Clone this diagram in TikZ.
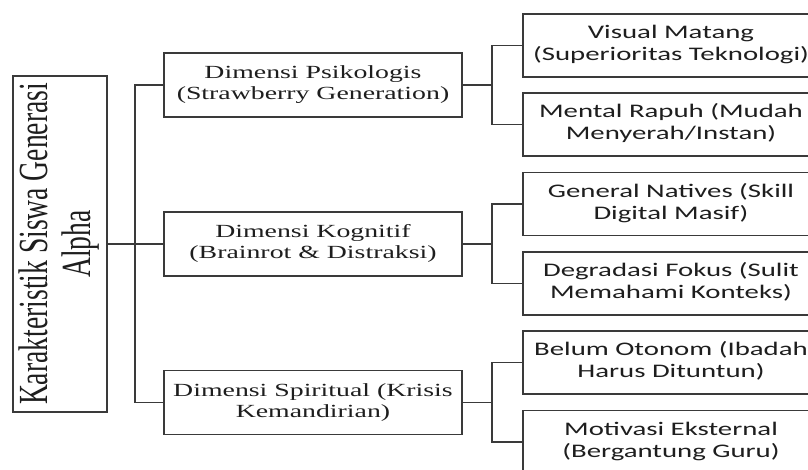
\documentclass[tikz,border=0pt]{standalone}
\usepackage{fontspec}
\setmainfont{Liberation Serif}
\newfontfamily\boxsans{Carlito}
\usepackage{graphicx}
\definecolor{linec}{HTML}{3A3A3A}
\definecolor{txtc}{HTML}{1E1E1E}
\newcommand{\hserif}[1]{\scalebox{1.5}[1]{\fontsize{13.9}{15.8}\selectfont\begin{tabular}{@{}c@{}}#1\end{tabular}}}
\newcommand{\hsans}[1]{\scalebox{1.5}[1]{\boxsans\fontsize{14.4}{16.5}\selectfont\begin{tabular}{@{}c@{}}#1\end{tabular}}}
\newcommand{\vserif}[1]{\scalebox{1}[1.5]{\fontsize{20.7}{21.5}\selectfont\begin{tabular}{@{}c@{}}#1\end{tabular}}}
\begin{document}
\begin{tikzpicture}[x=0.75pt,y=-0.75pt,
  boxbase/.style={draw=linec,line width=1.1pt,inner sep=0pt,text=txtc},
  rootbox/.style={boxbase,minimum width=70.5pt,minimum height=252pt},
  midbox/.style={boxbase,minimum width=223.5pt,minimum height=48pt},
  leafbox/.style={boxbase,minimum width=222pt,minimum height=47.5pt},
  conn/.style={draw=linec,line width=1.1pt}]
\useasboundingbox (0,0) rectangle (808,470);
\fill[white] (0,0) rectangle (808,470);
\clip (0,0) rectangle (808,470);
\node[rootbox] (r) at (60,244) {\rotatebox{90}{\vserif{Karakteristik Siswa Generasi\\Alpha}}};
\node[midbox] (m1) at (313,85) {\hserif{Dimensi Psikologis\\(Strawberry Generation)}};
\node[midbox] (m2) at (313,244) {\hserif{Dimensi Kognitif\\(Brainrot \& Distraksi)}};
\node[midbox] (m3) at (313,402.5) {\hserif{Dimensi Spiritual (Krisis\\Kemandirian)}};
\node[leafbox] (a) at (671,45.5) {\hsans{Visual Matang\\(Superioritas Teknologi)}};
\node[leafbox] (b) at (671,124.5) {\hsans{Mental Rapuh (Mudah\\Menyerah/Instan)}};
\node[leafbox] (c) at (671,204) {\hsans{General Natives (Skill\\Digital Masif)}};
\node[leafbox] (d) at (671,283.5) {\hsans{Degradasi Fokus (Sulit\\Memahami Konteks)}};
\node[leafbox] (e) at (671,362.5) {\hsans{Belum Otonom (Ibadah\\Harus Dituntun)}};
\node[leafbox] (f) at (671,442) {\hsans{Motivasi Eksternal\\(Bergantung Guru)}};
\coordinate (t) at (135,0);
\coordinate (u) at (492,0);
\draw[conn] (r.east) -- (m2.west);
\draw[conn] (m1.west) -- (m1.west -| t) -- (m3.west -| t) -- (m3.west);
\draw[conn] (m1.east) -- (m1.east -| u);
\draw[conn] (m2.east) -- (m2.east -| u);
\draw[conn] (m3.east) -- (m3.east -| u);
\draw[conn] (a.west) -- (a.west -| u) -- (b.west -| u) -- (b.west);
\draw[conn] (c.west) -- (c.west -| u) -- (d.west -| u) -- (d.west);
\draw[conn] (e.west) -- (e.west -| u) -- (f.west -| u) -- (f.west);
\end{tikzpicture}
\end{document}
